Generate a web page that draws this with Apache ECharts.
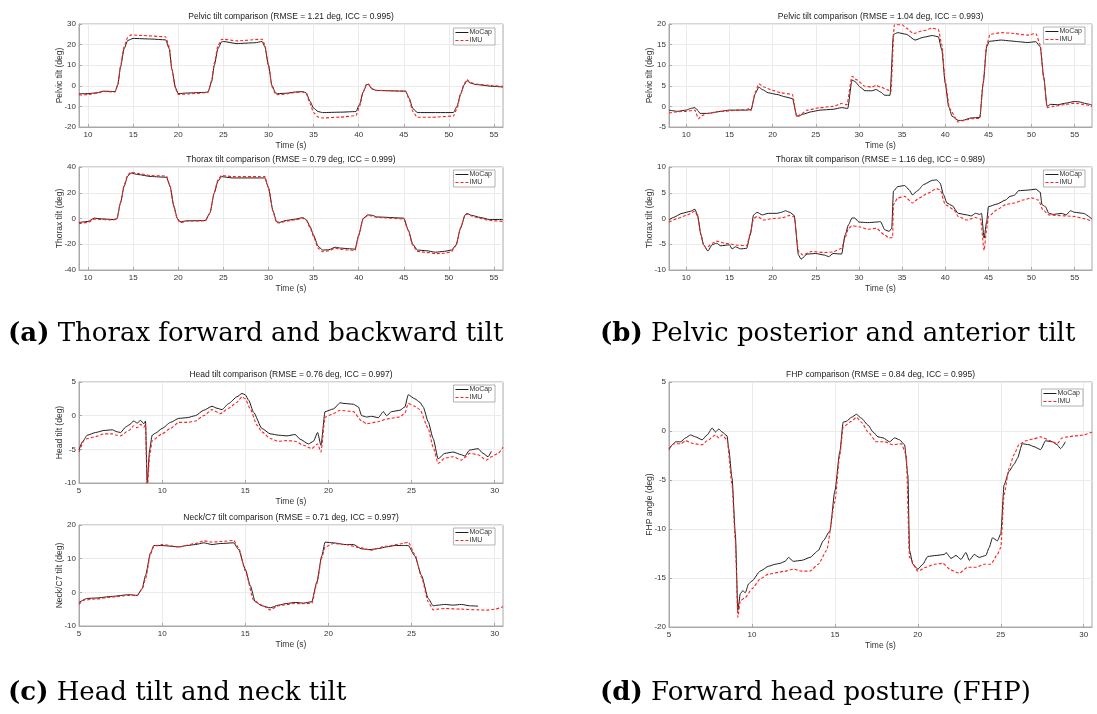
<!DOCTYPE html>
<html><head><meta charset="utf-8">
<script src="https://cdn.jsdelivr.net/npm/echarts@6/dist/echarts.min.js"></script>
<style>html,body{margin:0;padding:0;background:#fff}#c{width:1097px;height:714px}</style>
</head><body><div id="c"></div>
<script>
// ---------- DATA ----------
const xTicksAB = [10, 15, 20, 25, 30, 35, 40, 45, 50, 55];
const xTicksCD = [5, 10, 15, 20, 25, 30];
const seriesNames = ['MoCap', 'IMU'];
const plotTitles = [
  'Pelvic tilt comparison (RMSE = 1.21 deg, ICC = 0.995)',
  'Thorax tilt comparison (RMSE = 0.79 deg, ICC = 0.999)',
  'Pelvic tilt comparison (RMSE = 1.04 deg, ICC = 0.993)',
  'Thorax tilt comparison (RMSE = 1.16 deg, ICC = 0.989)',
  'Head tilt comparison (RMSE = 0.76 deg, ICC = 0.997)',
  'Neck/C7 tilt comparison (RMSE = 0.71 deg, ICC = 0.997)',
  'FHP comparison (RMSE = 0.84 deg, ICC = 0.995)'
];
const yNames = ['Pelvic tilt (deg)', 'Thorax tilt (deg)', 'Pelvic tilt (deg)', 'Thorax tilt (deg)', 'Head tilt (deg)', 'Neck/C7 tilt (deg)', 'FHP angle (deg)'];
const captions = [
  ['(a)', ' Thorax forward and backward tilt'],
  ['(b)', ' Pelvic posterior and anterior tilt'],
  ['(c)', ' Head tilt and neck tilt'],
  ['(d)', ' Forward head posture (FHP)']
];

// (a) top: pelvic tilt  [time s, deg]
const aPelvicMoCap = [[9,-3.9],[10,-3.8],[11,-3.4],[11.7,-2.6],[13,-2.8],[13.3,0.5],[13.6,9],[14,18],[14.4,22],[15,23],[17,22.7],[18.6,22.3],[19,18],[19.3,8],[19.7,-1],[20,-3.8],[21,-3.5],[23,-3.2],[23.3,-3],[23.7,2],[24,10],[24.4,18],[24.8,21.3],[25,21.5],[26.5,20.5],[28.5,20.9],[29.3,21.5],[29.6,19],[30,10],[30.4,0],[30.8,-3.5],[31,-3.8],[32,-3.6],[33,-3],[33.8,-2.8],[34.2,-3.5],[34.6,-7.5],[35,-10.8],[35.5,-12.5],[36,-13],[38,-12.8],[39.7,-12.5],[40.1,-9],[40.5,-3],[40.9,0.7],[41.1,0.5],[41.5,-1.6],[42,-2.3],[45.2,-2.6],[45.6,-6],[46,-11],[46.5,-13],[50.5,-13],[50.9,-10],[51.3,-4],[51.7,0.5],[52,2.5],[52.4,1.3],[53,0.6],[55,-0.3],[56,-0.6]];
const aPelvicIMU = [[9,-4.5],[10,-4.3],[11,-3.6],[11.7,-2.8],[13,-3],[13.3,0.5],[13.6,9.5],[14,19],[14.4,23.5],[14.8,24.7],[16,24.4],[18.6,23.8],[19,19],[19.3,8],[19.7,-1.5],[20,-4.2],[21,-4],[23,-3.4],[23.3,-3.2],[23.7,2.5],[24,11],[24.4,19.5],[24.8,22.5],[25,22.6],[26.5,21.8],[29.3,22.6],[29.6,20],[30,10],[30.4,-0.5],[30.8,-4],[31,-4.3],[32,-4],[33,-3.2],[33.8,-3],[34.2,-4],[34.6,-8.5],[35,-13],[35.5,-15.2],[36,-15.6],[38,-15.2],[39.7,-14.5],[40.1,-10],[40.5,-3],[40.9,1],[41.1,0.8],[41.5,-1.5],[42,-2.2],[45.2,-2.6],[45.6,-6.5],[46,-12.5],[46.5,-15.3],[48,-15.3],[50.5,-14.7],[50.9,-11],[51.3,-4],[51.7,1],[52,3],[52.4,1.6],[53,0.8],[55,0],[56,-0.3]];

// (a) bottom: thorax tilt
const aThoraxMoCap = [[9,-3.1],[10,-2.3],[10.7,0.3],[11.5,-0.3],[12.8,-0.8],[13.2,-0.3],[13.6,12],[14,25],[14.4,33],[14.8,35.2],[15.5,34.2],[17,32.6],[18.7,32],[19.1,25],[19.5,10],[19.9,0],[20.2,-2.5],[21,-1.8],[23,-1.6],[23.5,4],[24,20],[24.4,29],[24.8,32.5],[26,31.5],[29,31.5],[29.6,31.5],[30,24],[30.5,6],[30.9,-2.5],[31.2,-3],[32,-1.5],[33,-0.5],[33.8,0.7],[34.2,-1],[34.6,-6],[35,-13],[35.5,-21.5],[36,-24.5],[36.7,-24.3],[37.4,-22.3],[38,-23],[39,-23.5],[39.6,-23.8],[40,-13],[40.5,0],[41,2.8],[41.5,2.5],[42,1.2],[45,0.3],[45.5,-9],[46,-20],[46.5,-24.5],[47.5,-25],[48.5,-26.2],[49.5,-25.5],[50.3,-24.5],[50.8,-20.5],[51.3,-7.5],[51.8,2.8],[52,3.9],[52.5,2.5],[53.5,0.8],[54.5,-0.8],[56,-0.8]];
const aThoraxIMU = [[9,-4],[10,-3],[10.7,-0.5],[11.5,-0.8],[12.8,-1.2],[13.2,-0.5],[13.6,12.5],[14,26],[14.4,34],[14.8,36],[15.5,35],[17,33.3],[18.7,33],[19.1,25],[19.5,9.5],[19.9,-0.5],[20.2,-3.2],[21,-2],[23,-1.8],[23.5,4],[24,20.5],[24.4,30],[24.8,33.5],[26,32.5],[29,32.5],[29.6,32.5],[30,24],[30.5,5.5],[30.9,-3],[31.2,-3.5],[32,-2],[33,-1],[33.8,0.3],[34.2,-1.5],[34.6,-7],[35,-14],[35.5,-23],[36,-25.8],[36.7,-25],[37.4,-23],[38,-24],[39,-24.5],[39.6,-24.8],[40,-13.5],[40.5,0],[41,2.3],[41.5,2],[42,0.8],[45,-0.3],[45.5,-9.5],[46,-21],[46.5,-25.5],[47.5,-26.3],[48.5,-27.3],[49.5,-27],[50.3,-25.8],[50.8,-21],[51.3,-7],[51.8,2.5],[52,3.5],[52.5,2],[53.5,0],[54.5,-1.5],[56,-2.3]];

// (b) top: pelvic tilt
const bPelvicMoCap = [[8,-0.9],[9,-1.2],[10,-0.9],[10.5,-0.5],[11,-0.3],[11.3,-0.9],[11.6,-1.7],[12.5,-1.7],[14,-1.2],[15,-0.9],[17,-0.9],[17.5,-0.8],[18,3.1],[18.4,4.7],[18.8,4.1],[19.5,3.3],[20.5,2.9],[21.5,2.3],[22.3,1.9],[22.8,-2.2],[23,-2.4],[23.5,-1.9],[24.5,-1.3],[25.5,-0.9],[27,-0.7],[28,-0.3],[28.7,-0.5],[29.2,6.4],[29.5,6.1],[30.2,4.6],[30.7,3.8],[31.5,3.8],[32,4.1],[32.5,3.5],[33,2.7],[33.6,2.7],[34,17.5],[34.5,17.9],[35.5,17.5],[36.5,16.1],[37.5,16.8],[38.5,17.2],[39.2,16.9],[39.6,13.7],[40,5.6],[40.4,-0.1],[40.8,-2.4],[41.5,-3.4],[42,-3.4],[43,-2.8],[44,-2.7],[44.4,5.6],[44.8,14.5],[45.1,15.8],[46.5,16.1],[47.5,15.9],[48.5,15.7],[49.5,15.5],[50.5,15.7],[51,14.5],[51.4,7.2],[51.8,0],[52.2,0.5],[53,0.4],[54,0.8],[55,1.2],[55.5,1.1],[56.3,0.7],[57,0.3]];
const bPelvicIMU = [[8,-1.6],[9,-1.3],[10,-1.2],[11,-0.9],[11.4,-3],[11.8,-2.2],[12.5,-1.7],[14,-1.2],[17,-0.8],[17.3,-0.4],[17.5,-1],[18,3.5],[18.4,5.5],[19,4.7],[20,3.9],[21,3.3],[22.3,2.9],[22.8,-2.6],[23.2,-2],[24,-0.9],[25.5,-0.3],[27,0],[28,0.7],[28.6,0.4],[29.2,7.3],[29.7,6.5],[30.7,4.9],[31.5,4.7],[32,5.1],[32.5,4.7],[33.5,3.9],[33.7,3.5],[34.1,19.8],[35,19.8],[35.5,19],[36.3,17.7],[37.5,18.4],[38.5,19],[39.2,18.7],[39.6,15],[40,6],[40.5,-0.5],[41.5,-3.8],[42,-3.5],[43,-3],[44,-2.9],[44.4,6],[44.8,15],[45.2,17.5],[46.5,17.9],[48,17.7],[49.5,17.3],[50.5,17.7],[51,15],[51.4,7],[51.8,-0.3],[52.5,0],[54,0.5],[55,0.8],[56,0.5],[57,0]];

// (b) bottom: thorax tilt
const bThoraxMoCap = [[8,-0.3],[8.5,0.2],[9.5,1],[10.5,1.4],[11,1.8],[11.3,0.7],[11.7,-3.2],[12,-5.1],[12.5,-6.3],[13,-5.1],[13.5,-4.8],[14,-5.3],[15,-5.1],[15.3,-5.9],[15.7,-5.5],[16.3,-5.9],[17,-5.8],[17.4,-3.2],[17.8,0.7],[18.2,1.2],[18.8,0.7],[19.5,1],[20.5,1],[21,1.2],[21.5,1.5],[22,1.2],[22.5,0.6],[23,-7.1],[23.3,-7.9],[24,-6.9],[25,-6.8],[26,-7.1],[26.5,-7.4],[27,-6.8],[28,-6.9],[28.4,-3.2],[28.8,-1.2],[29.2,0.1],[29.5,0.1],[30,-0.7],[31,-0.8],[32,-0.7],[32.5,-0.6],[33,-2.2],[33.5,-2.5],[33.8,-1.9],[34,5.3],[34.5,6.2],[35.3,6.4],[35.8,5.6],[36.2,4.6],[36.8,5.4],[37.5,6.6],[38.5,7.4],[39,7.5],[39.4,6.9],[39.8,4.6],[40.2,3],[40.8,2.5],[41.5,1],[42.5,0.7],[43,0.5],[43.5,1],[44,0.8],[44.2,1],[44.5,-3.8],[44.8,-0.6],[45,2.3],[46,2.8],[47,3.6],[47.5,4.3],[48,4.5],[48.5,5.4],[49.5,5.5],[50.5,5.7],[51,5.1],[51.2,2.7],[51.6,2.3],[52,1],[52.5,0.8],[53.5,1],[54,0.7],[54.5,1.5],[55,1.2],[56,1],[57,-0.1]];
const bThoraxIMU = [[8,-0.7],[9,0],[10,0.6],[11,1.4],[11.3,0.5],[11.7,-3],[12,-5.1],[12.3,-5.8],[13,-4.8],[13.5,-4.4],[14.5,-4.8],[16,-5.2],[17,-5.3],[17.4,-3],[17.8,0],[18.2,0.4],[19,-0.3],[20,0],[21,0.1],[22,0.6],[22.5,0.3],[23,-6.4],[23.5,-7.1],[24.5,-6.4],[26,-6.6],[27,-6.5],[28,-5.8],[28.4,-3.7],[28.8,-1.9],[29.2,-1.4],[30,-1.6],[31,-2.1],[32,-1.9],[33,-3.2],[33.5,-3.8],[33.9,-3.7],[34,2.7],[34.5,4],[35.3,4.3],[36.2,3],[37,4],[38,4.9],[39,5.8],[39.4,5.6],[40,2.7],[41,1.7],[41.5,0.4],[42.5,-0.3],[43.5,0.2],[44.1,-0.1],[44.5,-6.2],[44.8,-2],[45,0.4],[46,1.7],[47,2.7],[48,3],[49,3.6],[50,4],[50.8,3.6],[51.3,1.7],[52,0.7],[53,0.6],[54,0.5],[55,0.4],[56,0],[57,-0.5]];

// (c) top: head tilt
const cHeadMoCap = [[5,-5.1],[5.2,-3.9],[5.5,-2.9],[6,-2.5],[6.5,-2.2],[7,-2.1],[7.3,-2.4],[7.5,-2.5],[7.8,-1.7],[8,-1.4],[8.3,-0.8],[8.5,-1.1],[8.7,-0.7],[8.9,-1.2],[9,-0.8],[9.1,-10],[9.25,-5],[9.4,-2.9],[9.6,-2.6],[10,-1.9],[10.5,-1],[11,-0.4],[11.5,-0.3],[12,0],[12.5,0.8],[13,1.4],[13.3,1.1],[13.6,0.9],[14,1.8],[14.5,2.8],[14.8,3.3],[15,3.1],[15.2,2.3],[15.5,0.5],[16,-1.9],[16.5,-2.7],[17,-2.9],[17.5,-3],[18,-2.8],[18.3,-3.5],[18.8,-4.2],[19.1,-3.8],[19.35,-2.5],[19.55,-4.4],[19.8,0.6],[20.3,1],[20.7,1.9],[21,1.8],[21.5,1.7],[21.8,1.3],[22,0],[22.3,-0.2],[22.6,-0.1],[23,-0.3],[23.3,0.6],[23.5,0],[23.8,0.6],[24.3,0.8],[24.6,1.3],[24.8,3.1],[25.2,2.5],[25.5,2],[25.7,1.3],[26,-0.9],[26.3,-3.4],[26.6,-6.4],[27,-5.6],[27.5,-5.4],[28,-5.8],[28.2,-6],[28.5,-5.1],[29,-4.9],[29.3,-5.6],[29.6,-6.1],[29.8,-5.3]];
const cHeadIMU = [[5,-5.4],[5.3,-3.7],[5.5,-3.4],[6,-3.1],[6.5,-2.7],[7,-2.7],[7.3,-2.9],[7.5,-3],[8,-2.2],[8.3,-1.5],[8.5,-1.8],[8.7,-1.3],[8.9,-1.7],[9,-1.4],[9.1,-11],[9.25,-6],[9.4,-3.7],[10,-2.7],[10.5,-1.9],[11,-1],[11.5,-1],[12,-0.8],[12.5,0],[13,0.9],[13.5,0.3],[14,1.1],[14.5,2],[14.8,2.8],[15,2.5],[15.3,1],[15.7,-1.4],[16,-2.4],[16.5,-3.4],[17,-3.8],[17.5,-3.7],[18,-3.8],[18.5,-4.4],[19,-4.9],[19.35,-4.2],[19.55,-5.4],[19.8,-0.2],[20.3,0.3],[20.7,0.8],[21.5,0.6],[22,-0.8],[22.3,-1.2],[23,-0.9],[23.5,-0.5],[24.3,-0.2],[24.6,0.4],[24.8,1.8],[25.2,1.4],[25.5,0.9],[26,-1.9],[26.3,-4.7],[26.6,-7.1],[27,-6.3],[27.5,-6.1],[28,-6.6],[28.5,-5.6],[29,-5.8],[29.5,-6.6],[29.8,-6.1],[30.2,-5.6],[30.5,-4.7]];

// (c) bottom: neck/C7 tilt
const cNeckMoCap = [[5,-3],[5.5,-1.8],[6,-1.7],[7,-1.2],[8,-0.7],[8.5,-0.9],[8.8,1.1],[9,5],[9.3,11.7],[9.5,13.9],[10,13.9],[11,13.5],[11.5,13.9],[12,14.2],[12.5,14.7],[13,14.2],[13.5,14.5],[14.3,14.7],[14.6,12.7],[15,6.9],[15.3,2],[15.6,-2.8],[16,-4],[16.5,-4.6],[17,-3.8],[17.5,-3.3],[18,-3],[18.5,-3.2],[19,-2.8],[19.3,3],[19.6,10.8],[19.8,14.9],[20.3,14.7],[21,14.2],[21.5,14.2],[22,12.9],[22.5,12.7],[23,13],[23.5,13.5],[24,13.9],[24.5,13.9],[24.8,13.9],[25.2,10.8],[25.6,5],[26,-1.8],[26.3,-4],[26.6,-3.8],[27,-3.6],[27.5,-3.8],[28,-3.6],[28.5,-4],[29,-4.1]];
const cNeckIMU = [[5,-3.6],[5.3,-2.3],[6,-2],[7,-1.4],[8,-0.9],[8.5,-1],[8.8,1],[9,4],[9.3,11.3],[9.5,13.7],[10,14.2],[11,13.5],[12,14.5],[12.5,15.3],[13,14.9],[13.5,15.1],[14.3,15.4],[14.6,13.2],[15,6.4],[15.5,-2.3],[16,-3.8],[16.5,-5.2],[17,-4],[17.5,-3.6],[18,-3.3],[18.5,-3.4],[19,-3.3],[19.3,2.5],[19.6,10.3],[19.8,13.5],[20.3,14.5],[21,14.2],[22,13.2],[22.5,12.5],[23.5,13.7],[24.5,14.5],[24.8,14.9],[25.2,11.3],[25.6,4.5],[26,-2.8],[26.3,-5.2],[26.6,-5],[27,-4.8],[28,-5],[29,-5.2],[29.5,-5.3],[30,-5],[30.5,-4.3]];

// (d) FHP angle
const dFhpMoCap = [[5,-1.9],[5.2,-1.4],[5.4,-1.1],[5.7,-1.1],[6,-0.7],[6.3,-0.4],[6.6,-0.6],[7,-0.9],[7.3,-0.4],[7.6,0.3],[7.8,-0.1],[8,0.2],[8.2,-0.1],[8.5,-0.5],[8.6,-1.8],[8.8,-4.8],[9,-10.5],[9.15,-18.3],[9.3,-16.6],[9.45,-16.3],[9.6,-16.5],[9.8,-15.6],[10,-15.3],[10.5,-14.3],[11,-13.8],[11.4,-13.6],[11.7,-13.5],[12,-13.3],[12.2,-12.9],[12.5,-13.3],[13,-13.2],[13.5,-12.9],[14,-12.2],[14.3,-11.2],[14.7,-10.2],[15,-6.1],[15.3,-2.1],[15.5,0.9],[15.7,1],[16,1.4],[16.3,1.7],[16.6,1.3],[17,0.6],[17.3,-0.1],[17.6,-0.6],[17.9,-0.7],[18.3,-1.1],[18.6,-0.7],[18.9,-0.9],[19.2,-1.4],[19.4,-4.5],[19.5,-12.2],[19.7,-13.6],[20,-14.1],[20.3,-13.6],[20.6,-12.8],[21.1,-12.7],[21.6,-12.6],[21.7,-12.4],[22,-13],[22.3,-12.7],[22.6,-13.1],[22.9,-12.4],[23.1,-13.2],[23.4,-12.6],[23.7,-12.9],[24.1,-12.7],[24.3,-11.9],[24.5,-10.9],[24.8,-11.2],[25,-10.5],[25.2,-5.5],[25.5,-4.1],[25.8,-3.4],[26,-2.8],[26.3,-1.3],[26.7,-1.4],[27,-1.6],[27.4,-1.9],[27.7,-1],[28.1,-1.1],[28.4,-1.4],[28.6,-1.8],[28.9,-1.1]];
const dFhpIMU = [[5,-1.8],[5.3,-1.3],[5.7,-1.3],[6,-1],[6.5,-1.3],[7,-1.4],[7.3,-1],[7.8,-0.4],[8,-0.7],[8.2,-0.4],[8.5,-0.9],[8.8,-5.5],[9,-11.2],[9.15,-19],[9.3,-17.3],[9.6,-17],[10,-16.1],[10.5,-15.1],[11,-14.6],[12,-14.3],[12.5,-14.1],[13,-14.3],[13.5,-14.3],[14,-13.6],[14.5,-12.2],[15,-7.2],[15.3,-2.4],[15.5,0.4],[16,1],[16.3,1.4],[16.6,0.9],[17,-0.1],[17.5,-1.1],[18,-1.1],[18.5,-1.4],[19,-1.3],[19.3,-2.4],[19.5,-12.9],[20,-14.3],[20.5,-13.9],[21,-13.6],[21.5,-13.5],[22,-14.2],[22.5,-14.5],[23,-13.9],[23.5,-13.9],[24,-13.6],[24.4,-13.6],[24.8,-12.6],[25,-11.9],[25.2,-6.5],[25.5,-3.8],[25.8,-2.4],[26.1,-1.4],[26.5,-1],[27,-0.8],[27.4,-0.6],[28,-1],[28.4,-1.3],[28.7,-0.7],[29,-0.6],[29.5,-0.5],[30,-0.4],[30.5,-0.1]];

// ---------- LAYOUT ----------
const FONT = '"Liberation Sans", Arial, sans-serif';
const SERIF = '"DejaVu Serif", serif';
const panels = [
  {g:{left:79, top:24, width:424, height:103}, x:[9,56], xt:xTicksAB, y:[-20,30,10], d:[aPelvicMoCap, aPelvicIMU], leg:{right:602, top:28}},
  {g:{left:79, top:167, width:424, height:103}, x:[9,56], xt:xTicksAB, y:[-40,40,20], d:[aThoraxMoCap, aThoraxIMU], leg:{right:602, top:170}},
  {g:{left:669, top:24, width:423, height:103}, x:[8,57], xt:xTicksAB, y:[-5,20,5], d:[bPelvicMoCap, bPelvicIMU], leg:{right:12, top:27}},
  {g:{left:669, top:167, width:423, height:103}, x:[8,57], xt:xTicksAB, y:[-10,10,5], d:[bThoraxMoCap, bThoraxIMU], leg:{right:12, top:170}},
  {g:{left:79, top:382, width:424, height:101}, x:[5,30.5], xt:xTicksCD, y:[-10,5,5], d:[cHeadMoCap, cHeadIMU], leg:{right:602, top:385}},
  {g:{left:79, top:525, width:424, height:101}, x:[5,30.5], xt:xTicksCD, y:[-10,20,10], d:[cNeckMoCap, cNeckIMU], leg:{right:602, top:528}},
  {g:{left:669, top:382, width:423, height:245}, x:[5,30.5], xt:xTicksCD, y:[-20,5,5], d:[dFhpMoCap, dFhpIMU], leg:{right:14, top:389}}
];

const AX = '#a8a8a8', GRIDC = '#ebebeb', TXT = '#333';
const COL_M = '#1c1c1c', COL_I = '#ff2020';
const legendIcons = ['path://M0 0H13V1H0Z', 'path://M0 0H3V1H0Z M5 0H8V1H5Z M10 0H13V1H10Z'];
const grid = [], xAxis = [], yAxis = [], series = [], legend = [], graphic = [];
panels.forEach((p, i) => {
  grid.push(Object.assign({show:true, borderColor:AX, borderWidth:1, backgroundColor:'#fff', containLabel:false}, p.g));
  xAxis.push({type:'value', gridIndex:i, min:p.x[0], max:p.x[1],
    name:'Time (s)', nameLocation:'middle', nameGap:14, nameMoveOverlap:false, nameTextStyle:{fontFamily:FONT, fontSize:8.5, color:TXT},
    axisLine:{show:true, onZero:false, lineStyle:{color:AX}},
    axisTick:{show:true, inside:true, length:3, lineStyle:{color:AX}, customValues:p.xt},
    axisLabel:{fontFamily:FONT, fontSize:8, color:TXT, margin:4, customValues:p.xt},
    splitLine:{show:true, lineStyle:{color:GRIDC, width:1}}});
  yAxis.push({type:'value', gridIndex:i, min:p.y[0], max:p.y[1], interval:p.y[2],
    name:yNames[i], nameLocation:'middle', nameRotate:90, nameGap:15, nameMoveOverlap:false, nameTextStyle:{fontFamily:FONT, fontSize:8.5, color:TXT},
    axisLine:{show:true, onZero:false, lineStyle:{color:AX}},
    axisTick:{show:true, inside:true, length:3, lineStyle:{color:AX}},
    axisLabel:{fontFamily:FONT, fontSize:8, color:TXT, margin:3},
    splitLine:{show:true, lineStyle:{color:GRIDC, width:1}}});
  series.push({type:'line', name:seriesNames[0], xAxisIndex:i, yAxisIndex:i, data:p.d[0], symbol:'none', showSymbol:false,
    smooth:0.2, smoothMonotone:'x', lineStyle:{color:COL_M, width:1}, itemStyle:{color:COL_M}, z:2, silent:true});
  series.push({type:'line', name:seriesNames[1], xAxisIndex:i, yAxisIndex:i, data:p.d[1], symbol:'none', showSymbol:false,
    smooth:0.2, smoothMonotone:'x', lineStyle:{color:COL_I, width:1.1, type:[3,2]}, itemStyle:{color:COL_I}, z:3, silent:true});
  legend.push({data:[{name:seriesNames[0], icon:legendIcons[0]}, {name:seriesNames[1], icon:legendIcons[1]}],
    orient:'vertical', right:p.leg.right, top:p.leg.top, itemWidth:13, itemHeight:6, itemGap:1, symbolKeepAspect:true,
    padding:[1,3,1,2], borderColor:'#a0a0a0', borderWidth:0.8, borderRadius:0, backgroundColor:'#fff', selectedMode:false,
    textStyle:{fontFamily:FONT, fontSize:7, color:TXT, padding:[0,0,0,-4]}});
  graphic.push({type:'text', x:p.g.left + p.g.width/2, y:p.g.top - 7, silent:true,
    style:{text:plotTitles[i], font:'8.5px ' + FONT, fill:'#1a1a1a', align:'center', verticalAlign:'middle', textAlign:'center', textVerticalAlign:'middle'}});
});

const capPos = [[8, 334], [600, 334], [8, 693], [600, 693]];
captions.forEach((c, i) => {
  graphic.push({type:'text', x:capPos[i][0], y:capPos[i][1], silent:true,
    style:{text:'{b|' + c[0] + '}{n|' + c[1] + '}', align:'left', verticalAlign:'middle', textAlign:'left', textVerticalAlign:'middle',
      rich:{b:{fontFamily:SERIF, fontSize:26, fontWeight:'bold', fill:'#000'}, n:{fontFamily:SERIF, fontSize:26, fill:'#000'}}}});
});

const chart = echarts.init(document.getElementById('c'), null, {renderer:'canvas'});
chart.setOption({animation:false, backgroundColor:'#fff', grid, xAxis, yAxis, series, legend, graphic});
</script></body></html>
